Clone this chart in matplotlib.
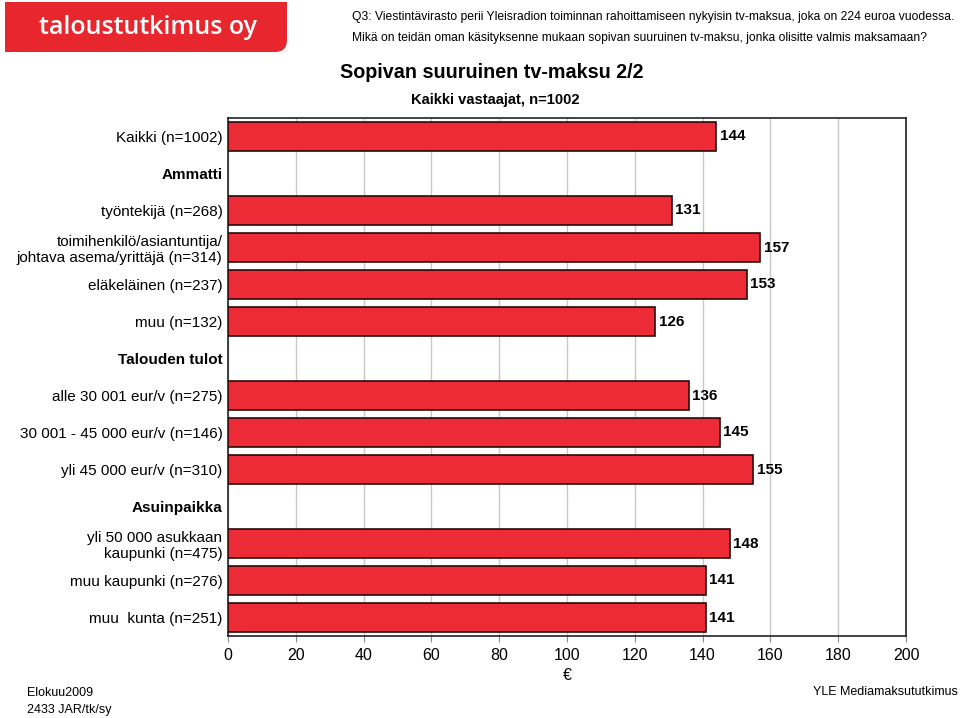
import matplotlib
matplotlib.use("Agg")
import matplotlib.pyplot as plt
import numpy as np
from matplotlib.path import Path
from matplotlib.patches import PathPatch

plt.rcParams['font.family'] = ['Liberation Sans', 'DejaVu Sans']

categories = [
    "Kaikki (n=1002)",
    "Ammatti",
    "työntekijä (n=268)",
    "toimihenkilö/asiantuntija/\njohtava asema/yrittäjä (n=314)",
    "eläkeläinen (n=237)",
    "muu (n=132)",
    "Talouden tulot",
    "alle 30 001 eur/v (n=275)",
    "30 001 - 45 000 eur/v (n=146)",
    "yli 45 000 eur/v (n=310)",
    "Asuinpaikka",
    "yli 50 000 asukkaan\nkaupunki (n=475)",
    "muu kaupunki (n=276)",
    "muu  kunta (n=251)",
]
values = [144, None, 131, 157, 153, 126, None, 136, 145, 155, None, 148, 141, 141]
headers = ["Ammatti", "Talouden tulot", "Asuinpaikka"]
x_ticks = [0, 20, 40, 60, 80, 100, 120, 140, 160, 180, 200]

W, H = 960, 718
fig = plt.figure(figsize=(W / 100, H / 100), dpi=100)
ax = fig.add_axes([228 / W, 1 - 636 / H, (906 - 228) / W, (636 - 118) / H])

n = len(categories)
y = np.arange(n)
for i, v in enumerate(values):
    if v is None:
        continue
    ax.barh(y[i], v, height=0.8, color='#EC2B36', edgecolor='#2a0a0a', linewidth=1.2, zorder=3)
    ax.text(v + 1, y[i], str(v), va='center', ha='left', fontsize=11, fontweight='bold', zorder=4)

ax.set_xlim(0, 200)
ax.set_ylim(n - 0.5, -0.5)
ax.set_xticks(x_ticks)
ax.set_xticklabels([str(t) for t in x_ticks], fontsize=11.5)
ax.set_yticks(y)
ax.set_yticklabels(categories, fontsize=11)
for lbl in ax.get_yticklabels():
    if lbl.get_text() in headers:
        lbl.set_fontweight('bold')
ax.tick_params(axis='y', length=0, pad=4)
ax.tick_params(axis='x', length=4, color='#888888', pad=5, direction='out')
ax.xaxis.grid(True, color='#c8c8c8', linewidth=1, zorder=0)
ax.set_axisbelow(True)
for s in ax.spines.values():
    s.set_color('#222222')
    s.set_linewidth(1.2)

# Logo
x0, x1 = 5 / W, 287 / W
y0, y1 = 1 - 52 / H, 1 - 2 / H
r = 12
rx, ry = r / W, r / H
verts = [(x0, y0), (x1 - rx, y0), (x1, y0), (x1, y0 + ry), (x1, y1), (x0, y1), (x0, y0)]
codes = [Path.MOVETO, Path.LINETO, Path.CURVE3, Path.CURVE3, Path.LINETO, Path.LINETO, Path.CLOSEPOLY]
fig.patches.append(PathPatch(Path(verts, codes), transform=fig.transFigure,
                             facecolor='#E8262E', edgecolor='none'))
fig.text(148 / W, 1 - 27 / H, "taloustutkimus oy", color='white', fontsize=18,
         fontweight='semibold', ha='center', va='center', family=['Open Sans', 'DejaVu Sans'])

# Question text
fig.text(352 / W, 1 - 17 / H, "Q3: Viestintävirasto perii Yleisradion toiminnan rahoittamiseen nykyisin tv-maksua, joka on 224 euroa vuodessa.",
         fontsize=8.75, ha='left', va='center')
fig.text(352 / W, 1 - 38 / H, "Mikä on teidän oman käsityksenne mukaan sopivan suuruinen tv-maksu, jonka olisitte valmis maksamaan?",
         fontsize=8.75, ha='left', va='center')

fig.text(492 / W, 1 - 72 / H, "Sopivan suuruinen tv-maksu 2/2", fontsize=14.2, fontweight='bold',
         ha='center', va='center')
fig.text(495 / W, 1 - 100 / H, "Kaikki vastaajat, n=1002", fontsize=10.6, fontweight='bold',
         ha='center', va='center')

fig.text(567 / W, 1 - 675 / H, "€", fontsize=11.5, ha='center', va='center')
fig.text(27 / W, 1 - 693 / H, "Elokuu2009", fontsize=9, ha='left', va='center')
fig.text(27 / W, 1 - 710 / H, "2433 JAR/tk/sy", fontsize=9, ha='left', va='center')
fig.text(958 / W, 1 - 692 / H, "YLE Mediamaksututkimus", fontsize=9, ha='right', va='center')

fig.savefig("out.png", dpi=100)
